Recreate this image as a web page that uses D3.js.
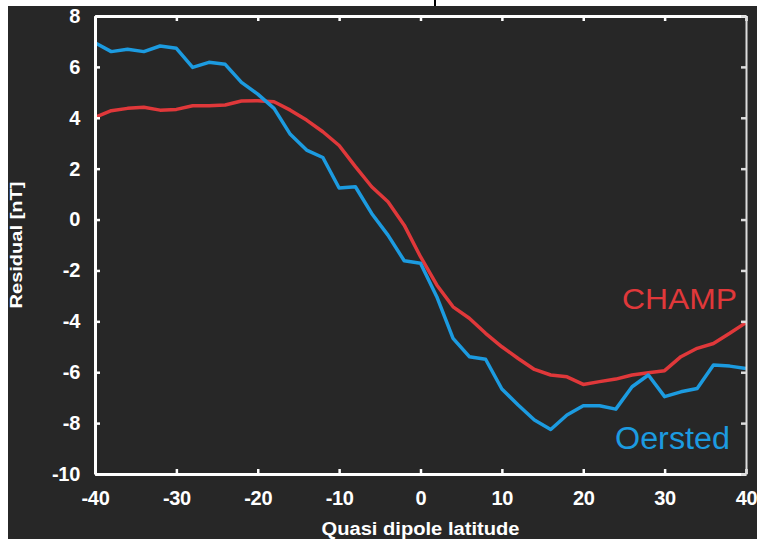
<!DOCTYPE html>
<html>
<head>
<meta charset="utf-8">
<script src="https://cdn.jsdelivr.net/npm/d3@7"></script>
<style>
  html, body { margin: 0; padding: 0; background: #ffffff; }
  svg { display: block; }
  text { font-family: "Liberation Sans", Arial, sans-serif; }
</style>
</head>
<body>
<script>
// Latitude grid (degrees, quasi-dipole)
const latitudes = [-40,-38,-36,-34,-32,-30,-28,-26,-24,-22,-20,-18,-16,-14,-12,-10,-8,-6,-4,-2,0,2,4,6,8,10,12,14,16,18,20,22,24,26,28,30,32,34,36,38,40];

// Residuals in nT
const champ = [4.02,4.28,4.37,4.41,4.30,4.33,4.47,4.47,4.50,4.66,4.67,4.63,4.30,3.91,3.45,2.91,2.08,1.29,0.70,-0.22,-1.46,-2.57,-3.43,-3.88,-4.47,-5.00,-5.46,-5.89,-6.11,-6.18,-6.48,-6.37,-6.27,-6.11,-6.02,-5.94,-5.39,-5.06,-4.87,-4.47,-4.05];
const oersted = [6.95,6.60,6.69,6.60,6.82,6.73,5.98,6.18,6.10,5.39,4.93,4.37,3.35,2.73,2.44,1.24,1.29,0.24,-0.61,-1.62,-1.72,-3.03,-4.67,-5.39,-5.49,-6.66,-7.29,-7.88,-8.25,-7.68,-7.32,-7.32,-7.45,-6.57,-6.11,-6.96,-6.77,-6.64,-5.72,-5.76,-5.85];

const xTicks = [-40,-30,-20,-10,0,10,20,30,40];
const yTicks = [-10,-8,-6,-4,-2,0,2,4,6,8];

const seriesNames = ["CHAMP", "Oersted"];
const seriesColors = ["#e0383a", "#1c9be0"];

const W = 757, H = 539;
const svg = d3.select("body").append("svg").attr("width", W).attr("height", H);

// page background: dark panel with thin white margins at the top and left
svg.append("rect").attr("x", 0).attr("y", 0).attr("width", W).attr("height", H).attr("fill", "#ffffff");
svg.append("rect").attr("x", 8).attr("y", 6).attr("width", W - 8).attr("height", H - 6).attr("fill", "#272727");
svg.append("rect").attr("x", 434).attr("y", 0).attr("width", 2).attr("height", 6).attr("fill", "#000000");

const x = d3.scaleLinear().domain([-40, 40]).range([95, 746]);
const y = d3.scaleLinear().domain([-10, 8]).range([474, 16]);

// plain hyphen-minus tick labels
const fmt = d => String(d);

// data curves
const line = d3.line().x((d, i) => x(latitudes[i])).y(d => y(d));
[champ, oersted].forEach((s, k) => {
  svg.append("path").datum(s)
    .attr("d", line)
    .attr("fill", "none")
    .attr("stroke", seriesColors[k])
    .attr("stroke-width", 3.5)
    .attr("stroke-linejoin", "round");
});

// axes box with inward ticks
function styleAxis(g, strokeW, fontSize) {
  g.selectAll(".domain").attr("stroke", "#ffffff").attr("stroke-width", strokeW);
  g.selectAll(".tick line").attr("stroke", "#ffffff").attr("stroke-width", 2.5);
  g.selectAll("text").attr("fill", "#ffffff")
    .style("font-size", fontSize + "px").style("font-weight", "bold")
    .style("letter-spacing", "-0.3px");
}

const gBottom = svg.append("g").attr("transform", `translate(0,${y(-10)})`)
  .call(d3.axisBottom(x).tickValues(xTicks).tickFormat(fmt).tickSize(-5).tickSizeOuter(0).tickPadding(17));
styleAxis(gBottom, 3, 20);

const gTop = svg.append("g").attr("transform", `translate(0,${y(8)})`)
  .call(d3.axisTop(x).tickValues(xTicks).tickSize(-5).tickSizeOuter(0).tickFormat(""));
styleAxis(gTop, 3, 20);

const gLeft = svg.append("g").attr("transform", `translate(${x(-40)},0)`)
  .call(d3.axisLeft(y).tickValues(yTicks).tickFormat(fmt).tickSize(-5).tickSizeOuter(0).tickPadding(15));
styleAxis(gLeft, 3, 20);

const gRight = svg.append("g").attr("transform", `translate(${x(40)},0)`)
  .call(d3.axisRight(y).tickValues(yTicks).tickSize(-5).tickSizeOuter(0).tickFormat(""));
styleAxis(gRight, 2, 20);
gRight.selectAll(".domain, .tick line").attr("stroke", "#dddddd");

// axis titles
svg.append("text")
  .attr("x", (x(-40) + x(40)) / 2).attr("y", 535)
  .attr("text-anchor", "middle")
  .attr("fill", "#ffffff")
  .style("font-size", "18px").style("font-weight", "bold")
  .attr("textLength", 198).attr("lengthAdjust", "spacingAndGlyphs")
  .text("Quasi dipole latitude");

svg.append("text")
  .attr("transform", `translate(22,${(y(-10) + y(8)) / 2}) rotate(-90)`)
  .attr("text-anchor", "middle")
  .attr("fill", "#ffffff")
  .style("font-size", "17px").style("font-weight", "bold")
  .attr("textLength", 127).attr("lengthAdjust", "spacingAndGlyphs")
  .text("Residual [nT]");

// series labels
svg.append("text")
  .attr("x", 622).attr("y", 309)
  .attr("fill", seriesColors[0])
  .style("font-size", "30px")
  .attr("textLength", 115).attr("lengthAdjust", "spacingAndGlyphs")
  .text(seriesNames[0]);

svg.append("text")
  .attr("x", 615).attr("y", 449)
  .attr("fill", seriesColors[1])
  .style("font-size", "31px")
  .attr("textLength", 115).attr("lengthAdjust", "spacingAndGlyphs")
  .text(seriesNames[1]);
</script>
</body>
</html>
